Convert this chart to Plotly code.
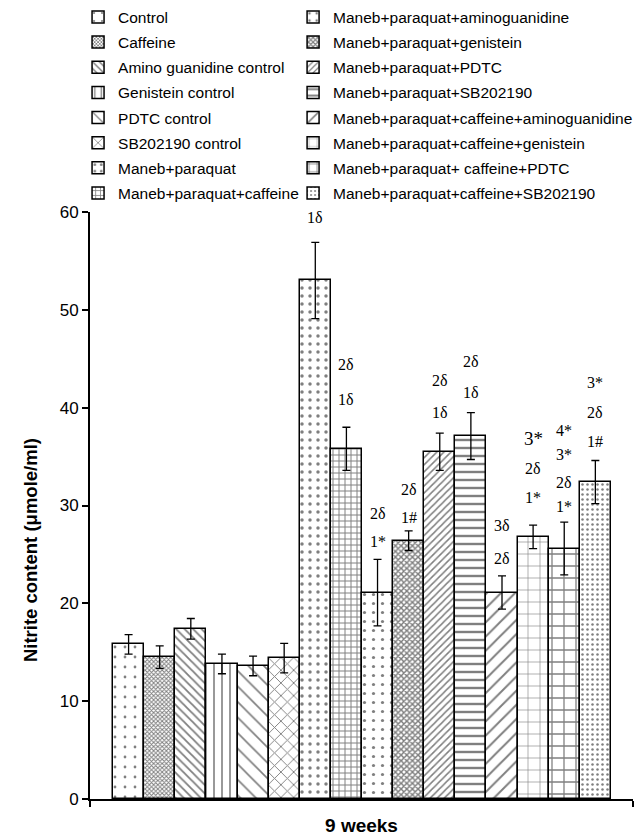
import plotly.graph_objects as go

# ---------------- data ----------------
groups = [
    "Control", "Caffeine", "Amino guanidine control", "Genistein control",
    "PDTC control", "SB202190 control", "Maneb+paraquat", "Maneb+paraquat+caffeine",
    "Maneb+paraquat+aminoguanidine", "Maneb+paraquat+genistein", "Maneb+paraquat+PDTC",
    "Maneb+paraquat+SB202190", "Maneb+paraquat+caffeine+aminoguanidine",
    "Maneb+paraquat+caffeine+genistein", "Maneb+paraquat+ caffeine+PDTC",
    "Maneb+paraquat+caffeine+SB202190",
]
nitrite = [15.8, 14.5, 17.4, 13.8, 13.6, 14.4, 53.0, 35.8,
           21.1, 26.4, 35.5, 37.1, 21.1, 26.8, 25.6, 32.4]
sem = [1.0, 1.15, 1.05, 1.0, 1.0, 1.5, 3.9, 2.2,
       3.4, 1.0, 1.9, 2.4, 1.7, 1.2, 2.7, 2.2]
# significance labels per bar (top to bottom) and their estimated heights
sig_labels = [[], [], [], [], [], [], ["1δ"], ["2δ", "1δ"],
              ["2δ", "1*"], ["2δ", "1#"], ["2δ", "1δ"], ["2δ", "1δ"],
              ["3δ", "2δ"], ["3*", "2δ", "1*"], ["4*", "3*", "2δ", "1*"],
              ["3*", "2δ", "1#"]]
sig_heights = [[], [], [], [], [], [], [59.4], [44.4, 40.8],
               [29.2, 26.3], [31.6, 28.8], [42.8, 39.5], [44.7, 41.6],
               [28.0, 24.6], [36.9, 33.8, 30.8], [37.7, 35.2, 32.4, 29.9],
               [42.6, 39.5, 36.5]]
y_ticks = [0, 10, 20, 30, 40, 50, 60]

# ---------------- styles ----------------
patterns = [
    dict(shape=".", size=10, solidity=0.06),
    dict(shape="x", size=3, solidity=0.55),
    dict(shape="\\", size=6, solidity=0.3),
    dict(shape="|", size=8, solidity=0.2),
    dict(shape="\\", size=11, solidity=0.15),
    dict(shape="x", size=9, solidity=0.2),
    dict(shape=".", size=8, solidity=0.15),
    dict(shape="+", size=6, solidity=0.3),
    dict(shape=".", size=9, solidity=0.1),
    dict(shape="x", size=4, solidity=0.6),
    dict(shape="/", size=5, solidity=0.3),
    dict(shape="-", size=8, solidity=0.3),
    dict(shape="/", size=10, solidity=0.2),
    dict(shape="+", size=12, solidity=0.1),
    dict(shape="+", size=12, solidity=0.2),
    dict(shape=".", size=5, solidity=0.2),
]

fig = go.Figure()
n = len(groups)
for i in range(n):
    fig.add_trace(go.Bar(
        x=[i], y=[nitrite[i]], width=1.0, name=groups[i],
        legend="legend" if i < n // 2 else "legend2", legendgroup=f"g{i}",
        marker=dict(color="white", line=dict(color="black", width=1.5),
                    pattern=dict(fgcolor="black", bgcolor="white", **patterns[i])),
        error_y=dict(type="data", array=[sem[i]], color="black", thickness=1.3, width=4),
    ))

annotations = []
for i in range(n):
    for lab, h in zip(sig_labels[i], sig_heights[i]):
        big = (i == 13 and lab == "3*")
        annotations.append(dict(
            x=i, y=h, xref="x", yref="y", text=lab, showarrow=False,
            font=dict(family="Liberation Serif", size=19 if big else 16, color="black"),
            xanchor="center", yanchor="middle"))
annotations.append(dict(
    x=-0.1105, y=0.424, xref="paper", yref="paper", textangle=-90, showarrow=False,
    text="<b>Nitrite content (μmole/ml)</b>", xanchor="center", yanchor="middle",
    font=dict(family="Liberation Sans", size=18.5, color="black")))

legend_common = dict(orientation="v", yanchor="top", xanchor="left", y=1.3605,
                     font=dict(family="Liberation Sans", size=15.5, color="black"),
                     itemwidth=30, tracegroupgap=2, bgcolor="rgba(0,0,0,0)")
fig.update_layout(
    width=638, height=838,
    margin=dict(l=90, r=5, t=212, b=39, autoexpand=False),
    paper_bgcolor="white", plot_bgcolor="white",
    barmode="overlay", bargap=0,
    font=dict(family="Liberation Sans", size=15, color="black"),
    annotations=annotations,
    showlegend=True,
    legend=dict(x=-0.022, **legend_common),
    legend2=dict(x=0.374, **legend_common),
)
fig.update_xaxes(range=[-1.24, 16.21], showline=True, linecolor="black", linewidth=2,
                 tickvals=[-1.24, 16.21], ticktext=["", ""], ticks="outside", ticklen=6,
                 tickcolor="black", tickwidth=1.5, showgrid=False, zeroline=False,
                 title=dict(text="<b>9 weeks</b>", font=dict(size=19), standoff=10))
fig.update_yaxes(range=[0, 60], showline=True, linecolor="black", linewidth=2,
                 tickvals=y_ticks, ticks="outside", ticklen=6, tickcolor="black",
                 tickwidth=1.5, showgrid=False, zeroline=False,
                 tickfont=dict(size=17))

fig.write_html("out.html")
